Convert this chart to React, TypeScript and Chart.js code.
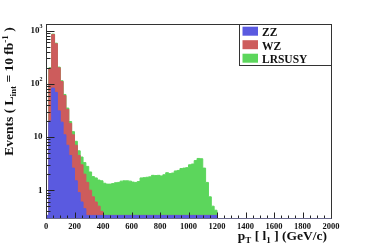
import { useEffect, useRef } from 'react';
import { Chart, registerables } from 'chart.js';

Chart.register(...registerables);

// 20 GeV bins: lower edges in GeV, plus the last upper edge
const binLowEdges = [
  0, 20, 40, 60, 80, 100, 120, 140, 160, 180,
  200, 220, 240, 260, 280, 300, 320, 340, 360, 380,
  400, 420, 440, 460, 480, 500, 520, 540, 560, 580,
  600, 620, 640, 660, 680, 700, 720, 740, 760, 780,
  800, 820, 840, 860, 880, 900, 920, 940, 960, 980,
  1000, 1020, 1040, 1060, 1080, 1100, 1120, 1140, 1160, 1180,
];
const lastBinHighEdge = 1200;

const zzEvents = [
  0, 20, 83, 69, 31, 19, 11, 7, 4.5, 2.6,
  1.5, 0.9, 0.6, 0.45, 0, 0, 0, 0, 0, 0,
  0, 0, 0, 0, 0, 0, 0, 0, 0, 0,
  0, 0, 0, 0, 0, 0, 0, 0, 0, 0,
  0, 0, 0, 0, 0, 0, 0, 0, 0, 0,
  0, 0, 0, 0, 0, 0, 0, 0, 0, 0,
];

const wzEvents = [
  0, 195, 843, 566, 200, 110, 60, 33, 18, 11,
  7, 4.5, 3, 2, 1.4, 1.0, 0.75, 0.6, 0.5, 0.4,
  0, 0, 0, 0, 0, 0, 0, 0, 0, 0,
  0, 0, 0, 0, 0, 0, 0, 0, 0, 0,
  0, 0, 0, 0, 0, 0, 0, 0, 0, 0,
  0, 0, 0, 0, 0, 0, 0, 0, 0, 0,
];

const lrsusyEvents = [
  0, 200, 860, 580, 206, 114, 63, 35, 19.5, 12.6,
  8.3, 5.5, 4.2, 3.3, 2.8, 2.2, 1.8, 1.7, 1.55, 1.5,
  1.35, 1.3, 1.3, 1.33, 1.38, 1.4, 1.48, 1.5, 1.5, 1.48,
  1.42, 1.4, 1.45, 1.7, 1.72, 1.75, 1.78, 1.9, 1.88, 1.9,
  1.85, 1.95, 2.13, 2.05, 2.1, 2.3, 2.35, 2.55, 2.6, 2.65,
  3.0, 3.1, 3.6, 3.95, 3.9, 2.6, 1.4, 0.75, 0.5, 0.42,
];

const seriesNames = ['ZZ', 'WZ', 'LRSUSY'];
const seriesColors = ['#5a5ae0', '#cd5c5c', '#5cd65c'];

const xMin = 0;
const xMax = 2000;
const xMajorTicks = [0, 200, 400, 600, 800, 1000, 1200, 1400, 1600, 1800, 2000];
const xMinorStep = 50;

const yMin = 0.335;
const yMax = 1330;
const yTickValues = [1, 10, 100, 1000];
const yTickMantissa = ['1', '10', '10', '10'];
const yTickExponent = ['', '', '2', '3'];

const SERIF = '"Liberation Serif", "DejaVu Serif", serif';

type Seg = { t: string; size: number; dy: number };

function drawSegs(ctx: CanvasRenderingContext2D, segs: Seg[], x0: number, y0: number) {
  let x = x0;
  for (const s of segs) {
    ctx.font = `bold ${s.size}px ${SERIF}`;
    ctx.fillText(s.t, x, y0 + s.dy);
    x += ctx.measureText(s.t).width;
  }
}
function segsWidth(ctx: CanvasRenderingContext2D, segs: Seg[]) {
  let w = 0;
  for (const s of segs) {
    ctx.font = `bold ${s.size}px ${SERIF}`;
    w += ctx.measureText(s.t).width;
  }
  return w;
}

const rootStylePlugin = {
  id: 'rootStyle',
  afterDatasetsDraw(chart: any) {
    const { ctx, chartArea: a, scales } = chart;
    const xs = scales.x;
    const ys = scales.y;
    ctx.save();
    ctx.fillStyle = '#111';
    ctx.strokeStyle = '#222';
    ctx.lineWidth = 1;

    const L = Math.round(a.left) + 0.5;
    const R = Math.round(a.right) + 0.5;
    const T = Math.round(a.top) + 0.5;
    const B = Math.round(a.bottom) + 0.5;

    // x ticks (inward)
    ctx.beginPath();
    for (let v = xMin; v <= xMax; v += xMinorStep) {
      const px = Math.round(xs.getPixelForValue(v)) + 0.5;
      const len = v % 200 === 0 ? 6 : 3;
      ctx.moveTo(px, B);
      ctx.lineTo(px, B - len);
    }
    // y ticks (inward)
    const decades = [0.1, 1, 10, 100, 1000];
    for (const d of decades) {
      for (let k = 1; k <= 9; k++) {
        const v = d * k;
        if (v < yMin || v > yMax) continue;
        const py = Math.round(ys.getPixelForValue(v)) + 0.5;
        const len = k === 1 ? 8 : 4;
        ctx.moveTo(L, py);
        ctx.lineTo(L + len, py);
      }
    }
    ctx.stroke();

    // frame
    ctx.strokeStyle = '#333';
    ctx.strokeRect(L, T, R - L, B - T);
    ctx.strokeStyle = '#6a6a90';
    ctx.beginPath();
    ctx.moveTo(L, B);
    ctx.lineTo(R, B);
    ctx.stroke();

    // x tick labels
    ctx.fillStyle = '#111';
    ctx.font = `bold 8.5px ${SERIF}`;
    ctx.textAlign = 'center';
    ctx.textBaseline = 'alphabetic';
    for (const v of xMajorTicks) {
      ctx.fillText(String(v), xs.getPixelForValue(v), a.bottom + 10.5);
    }

    // y tick labels
    ctx.textAlign = 'left';
    ctx.textBaseline = 'middle';
    yTickValues.forEach((v, i) => {
      const py = ys.getPixelForValue(v);
      const segs: Seg[] = [{ t: yTickMantissa[i], size: 9, dy: 0 }];
      if (yTickExponent[i]) segs.push({ t: yTickExponent[i], size: 6, dy: -4 });
      const w = segsWidth(ctx, segs);
      drawSegs(ctx, segs, a.left - 3.5 - w, py);
    });

    // y title (rotated)
    ctx.save();
    ctx.translate(13, 91.5);
    ctx.rotate(-Math.PI / 2);
    ctx.textBaseline = 'alphabetic';
    const ySegs: Seg[] = [
      { t: 'Events ( L', size: 13.5, dy: 0 },
      { t: 'int', size: 9, dy: 3 },
      { t: ' = 10 fb', size: 13.5, dy: 0 },
      { t: '-1', size: 9, dy: -5.5 },
      { t: ' )', size: 13.5, dy: 0 },
    ];
    const yw = segsWidth(ctx, ySegs);
    drawSegs(ctx, ySegs, -yw / 2, 0);
    ctx.restore();

    // x title
    ctx.textBaseline = 'alphabetic';
    const xSegs: Seg[] = [
      { t: 'p', size: 13.5, dy: 0 },
      { t: 'T', size: 9, dy: 3 },
      { t: ' [ l', size: 13.5, dy: 0 },
      { t: '1', size: 9, dy: 3 },
      { t: ' ] (GeV/c)', size: 13.5, dy: 0 },
    ];
    const xw = segsWidth(ctx, xSegs);
    drawSegs(ctx, xSegs, 327 - xw, 239.5);

    // legend
    const lx = 239.5;
    const lb = 65.5;
    ctx.fillStyle = '#ffffff';
    ctx.fillRect(lx, T, R - lx, lb - T);
    ctx.strokeStyle = '#333';
    ctx.strokeRect(lx, T, R - lx, lb - T);
    const rowBase = [36, 49.5, 63];
    seriesNames.forEach((name, i) => {
      ctx.fillStyle = seriesColors[i];
      ctx.fillRect(242.5, rowBase[i] - 9.3, 15.5, 9);
      ctx.fillStyle = '#111';
      ctx.font = `bold 11.5px ${SERIF}`;
      ctx.textAlign = 'left';
      ctx.fillText(name, 262, rowBase[i]);
    });

    ctx.restore();
  },
};

export default function App() {
  const ref = useRef<HTMLCanvasElement | null>(null);

  useEffect(() => {
    const canvas = ref.current;
    if (!canvas) return;
    // histogram outline as step points at bin lower edges; empty bins sit on the axis floor
    const mk = (vals: number[]) =>
      binLowEdges
        .map((x, i) => ({ x, y: vals[i] > 0 ? vals[i] : yMin }))
        .concat([{ x: lastBinHighEdge, y: yMin }]);
    const chart = new Chart(canvas, {
      type: 'line',
      data: {
        datasets: [zzEvents, wzEvents, lrsusyEvents].map((vals, i) => ({
          label: seriesNames[i],
          data: mk(vals),
          backgroundColor: seriesColors[i],
          borderColor: seriesColors[i],
          borderWidth: 1,
          stepped: 'before',
          fill: 'start',
          pointRadius: 0,
          tension: 0,
        })),
      },
      options: {
        animation: false,
        responsive: false,
        devicePixelRatio: 1,
        layout: { padding: { left: 46, right: 37, top: 24, bottom: 31 } },
        plugins: { legend: { display: false }, tooltip: { enabled: false } },
        scales: {
          x: { type: 'linear', min: xMin, max: xMax, offset: false, display: false },
          y: { type: 'logarithmic', min: yMin, max: yMax, display: false },
        },
      },
      plugins: [rootStylePlugin],
    } as any);
    return () => chart.destroy();
  }, []);

  return (
    <div style={{ position: 'fixed', left: 0, top: 0, width: 368, height: 249, background: '#fff' }}>
      <canvas ref={ref} width={368} height={249} style={{ display: 'block' }} />
    </div>
  );
}
